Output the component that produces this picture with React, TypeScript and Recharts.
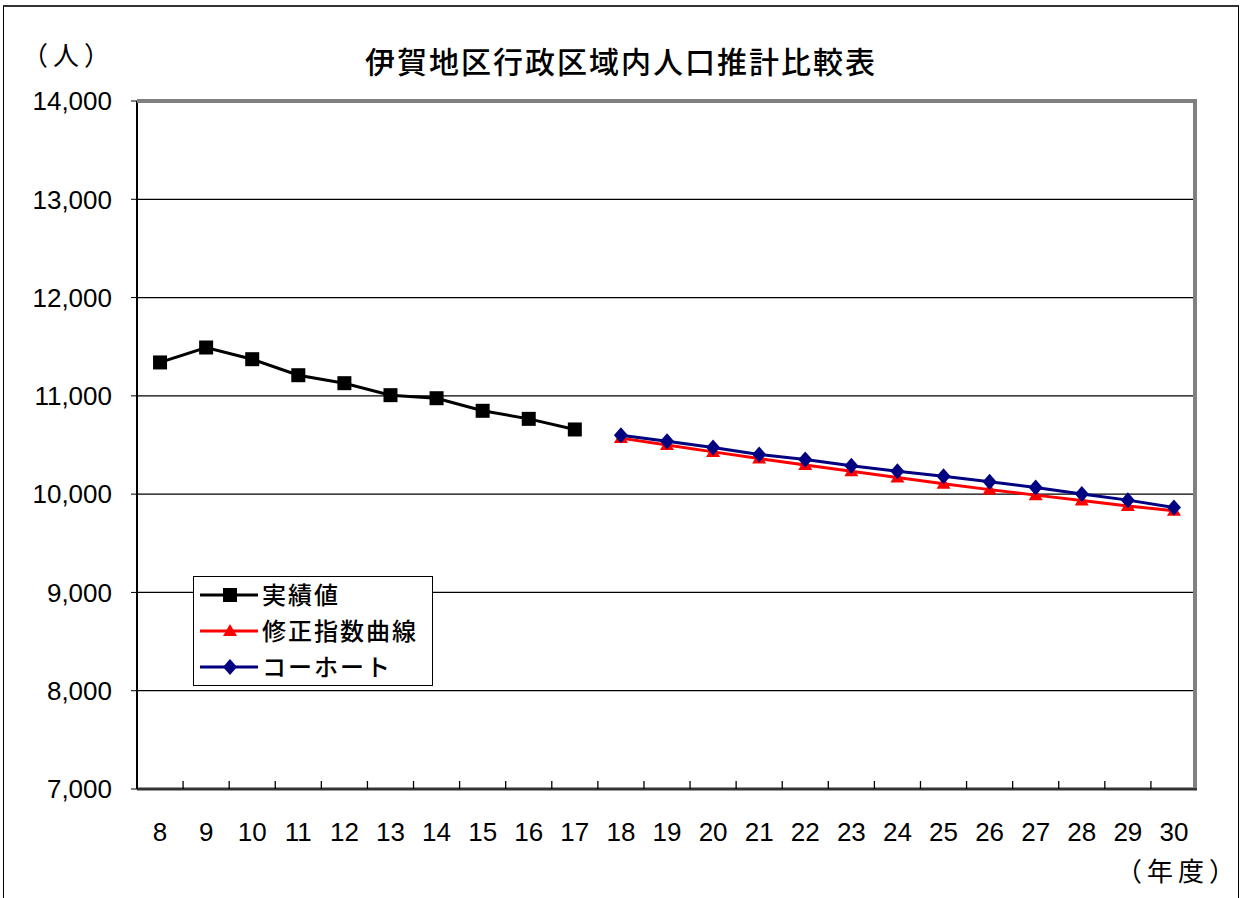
import {
  LineChart,
  Line,
  XAxis,
  YAxis,
  CartesianGrid,
  Legend,
} from 'recharts';

const years = ['8', '9', '10', '11', '12', '13', '14', '15', '16', '17', '18', '19', '20', '21', '22', '23', '24', '25', '26', '27', '28', '29', '30'];
const actual = [11340, 11492, 11373, 11210, 11129, 11007, 10976, 10848, 10766, 10658, null, null, null, null, null, null, null, null, null, null, null, null, null];
const modifiedExp = [null, null, null, null, null, null, null, null, null, null, 10570, 10500, 10430, 10362, 10296, 10232, 10170, 10106, 10046, 9990, 9935, 9880, 9830];
const cohort = [null, null, null, null, null, null, null, null, null, null, 10600, 10539, 10475, 10404, 10353, 10288, 10234, 10183, 10125, 10068, 10002, 9939, 9865];
const yTicks = [7000, 8000, 9000, 10000, 11000, 12000, 13000, 14000];

const data = years.map((y, i) => ({
  year: y,
  actual: actual[i],
  modifiedExp: modifiedExp[i],
  cohort: cohort[i],
}));

const W = 1242;
const H = 898;
const LEFT = 137;
const RIGHT = 45;
const TOP = 101;
const BOTTOM = 109;
const BAND = (W - LEFT - RIGHT) / years.length;
const jp = '"Noto Sans CJK JP", sans-serif';
const num = '"Liberation Sans", Arial, sans-serif';

const Square = ({ cx, cy }: any) => <rect x={cx - 7} y={cy - 7} width={14} height={14} fill='#000' />;
const Triangle = ({ cx, cy }: any) => (
  <polygon points={`${cx},${cy - 7} ${cx + 7},${cy + 5} ${cx - 7},${cy + 5}`} fill='#ff0000' />
);
const Diamond = ({ cx, cy }: any) => (
  <polygon points={`${cx},${cy - 8} ${cx + 7},${cy} ${cx},${cy + 8} ${cx - 7},${cy}`} fill='#000080' />
);

const dotOf = (Shape: any) => (p: any) => {
  if (p.cy == null || p.value == null) return <g key={p.key ?? p.index} />;
  return <Shape key={p.key ?? p.index} cx={p.cx} cy={p.cy} />;
};

const XTick = (props: any) => {
  const { x, y, payload, index } = props;
  return (
    <g>
      {index < years.length - 1 && (
        <line x1={x + BAND / 2} x2={x + BAND / 2} y1={y} y2={y - 8} stroke='#000' strokeWidth={1.3} />
      )}
      <text x={x} y={y + 43} textAnchor='middle' dominantBaseline='central' fontSize={26} fontFamily={num} fill='#000'>
        {payload.value}
      </text>
    </g>
  );
};

const legendRows = [
  { label: '実績値', color: '#000', Shape: Square },
  { label: '修正指数曲線', color: '#ff0000', Shape: Triangle },
  { label: 'コーホート', color: '#000080', Shape: Diamond },
];

const LegendBox = () => (
  <div
    style={{
      border: '1.5px solid #000',
      background: '#fff',
      width: 240,
      height: 110,
      boxSizing: 'border-box',
    }}>
    {legendRows.map((r) => (
      <div key={r.label} style={{ display: 'flex', alignItems: 'center', height: 36 }}>
        <svg width={68} height={36} style={{ flex: 'none' }}>
          <line x1={6} x2={64} y1={18} y2={18} stroke={r.color} strokeWidth={3} />
          <r.Shape cx={36} cy={18} />
        </svg>
        <span style={{ fontFamily: jp, fontSize: 24, fontWeight: 500, letterSpacing: 2, color: '#000', whiteSpace: 'nowrap', marginTop: -4 }}>
          {r.label}
        </span>
      </div>
    ))}
  </div>
);

const App = () => {
  return (
    <div style={{ position: 'absolute', left: 0, top: 0, width: W, height: H, background: '#fff', overflow: 'hidden' }}>
      <div
        style={{
          position: 'absolute',
          left: 3,
          top: 5,
          width: 1236,
          height: 920,
          borderTop: '2px solid #333',
          borderLeft: '1.5px solid #000',
          borderRight: '1.5px solid #000',
          boxSizing: 'border-box',
        }}
      />
      <div style={{ position: 'absolute', left: 0, width: W, top: 38, textAlign: 'center', fontFamily: jp, fontSize: 30, fontWeight: 500, letterSpacing: 2, color: '#000' }}>
        伊賀地区行政区域内人口推計比較表
      </div>
      <div style={{ position: 'absolute', left: 22, top: 35, fontFamily: jp, fontSize: 26, letterSpacing: 5, color: '#000' }}>（人）</div>
      <div style={{ position: 'absolute', left: 1116, top: 851, fontFamily: jp, fontSize: 26, letterSpacing: 5, color: '#000' }}>（年度）</div>
      <LineChart width={W} height={H} data={data} margin={{ top: TOP, right: RIGHT, bottom: 0, left: 0 }} style={{ position: 'absolute', left: 0, top: 0 }}>
        <CartesianGrid vertical={false} stroke='#000' strokeWidth={1.3} />
        <XAxis
          dataKey='year'
          scale='band'
          height={BOTTOM}
          tickLine={false}
          tickSize={0}
          tickMargin={0}
          interval={0}
          tick={<XTick />}
          axisLine={{ stroke: '#333', strokeWidth: 3 }}
        />
        <YAxis
          domain={[7000, 14000]}
          ticks={yTicks}
          width={LEFT}
          tickSize={6}
          tickMargin={19}
          tickLine={{ stroke: '#000' }}
          axisLine={{ stroke: '#000', strokeWidth: 2 }}
          tickFormatter={(v: number) => v.toLocaleString('en-US')}
          tick={{ fontSize: 26, fontFamily: num, fill: '#000' }}
        />
        <Legend
          layout='vertical'
          align='center'
          verticalAlign='middle'
          content={<LegendBox />}
          wrapperStyle={{ left: 193, top: 576, width: 240, height: 110 }}
        />
        <Line dataKey='actual' name='実績値' stroke='#000' strokeWidth={3} dot={dotOf(Square)} activeDot={false} isAnimationActive={false} />
        <Line dataKey='modifiedExp' name='修正指数曲線' stroke='#ff0000' strokeWidth={3} dot={dotOf(Triangle)} activeDot={false} isAnimationActive={false} />
        <Line dataKey='cohort' name='コーホート' stroke='#000080' strokeWidth={3} dot={dotOf(Diamond)} activeDot={false} isAnimationActive={false} />
      </LineChart>
      <div
        style={{
          position: 'absolute',
          left: LEFT,
          top: TOP - 2,
          width: W - LEFT - RIGHT,
          height: H - TOP - BOTTOM + 1,
          borderTop: '4px solid #808080',
          borderRight: '4px solid #808080',
          boxSizing: 'border-box',
          pointerEvents: 'none',
        }}
      />
    </div>
  );
};

export default App;
